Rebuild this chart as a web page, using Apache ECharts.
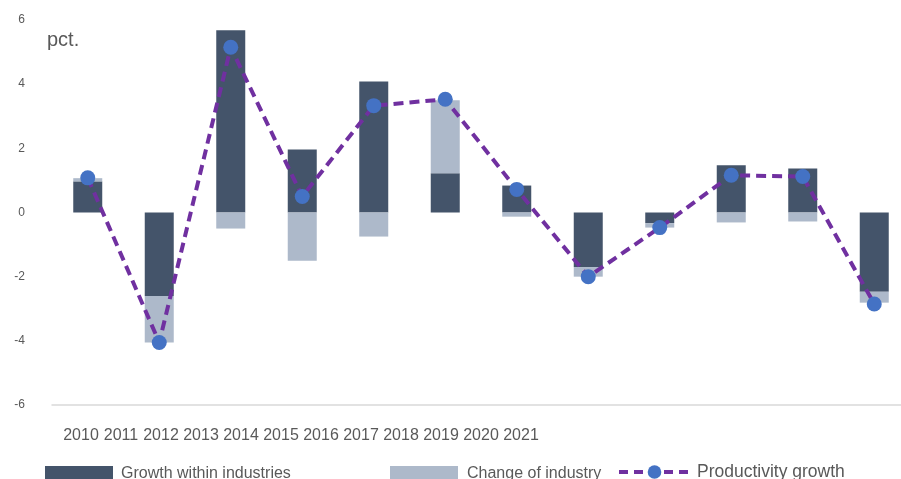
<!DOCTYPE html>
<html>
<head>
<meta charset="utf-8">
<script src="https://cdn.jsdelivr.net/npm/echarts@6/dist/echarts.min.js"></script>
<style>
html,body{margin:0;padding:0;background:#fff;}
#chart{width:901px;height:479px;}
</style>
</head>
<body>
<div id="chart"></div>
<script>
const years = ['2010','2011','2012','2013','2014','2015','2016','2017','2018','2019','2020','2021'];
const withinIndustries = [0.97, -2.6, 5.68, 1.96, 4.08, 1.22, 0.84, -1.70, -0.33, 1.47, 1.37, -2.47];
const changeOfIndustry = [0.10, -1.45, -0.50, -1.50, -0.75, 2.28, -0.13, -0.30, -0.14, -0.31, -0.28, -0.34];
const productivity = [1.08, -4.05, 5.15, 0.50, 3.33, 3.53, 0.72, -2.00, -0.47, 1.16, 1.12, -2.85];
const yTicks = {min: -6, max: 6, interval: 2};

const grey = '#595959';
const chart = echarts.init(document.getElementById('chart'), null, {renderer: 'canvas'});
chart.setOption({
  animation: false,
  backgroundColor: '#ffffff',
  textStyle: {fontFamily: 'Liberation Sans, Arial, sans-serif'},
  title: {
    text: 'pct.', left: 47, top: 30, padding: 0,
    textStyle: {fontSize: 20, fontWeight: 'normal', color: grey, fontFamily: 'Liberation Sans, Arial, sans-serif'}
  },
  grid: [
    {left: 52, top: 20, width: 858, height: 385, outerBoundsMode: 'none', containLabel: false},
    {left: 61, top: 400, width: 480, height: 20, outerBoundsMode: 'none', containLabel: false}
  ],
  xAxis: [
    {
      type: 'category', gridIndex: 0, data: years, boundaryGap: true,
      axisLine: {onZero: false, lineStyle: {color: '#d9d9d9', width: 1.5}},
      axisTick: {show: false}, axisLabel: {show: false}, splitLine: {show: false}
    },
    {
      type: 'category', gridIndex: 1, data: years, boundaryGap: true,
      axisLine: {show: false}, axisTick: {show: false},
      axisLabel: {show: true, interval: 0, color: grey, fontSize: 16, margin: 8,
        fontFamily: 'Liberation Sans, Arial, sans-serif'}
    }
  ],
  yAxis: [
    {
      type: 'value', gridIndex: 0, min: yTicks.min, max: yTicks.max, interval: yTicks.interval,
      axisLine: {show: false}, axisTick: {show: false}, splitLine: {show: false},
      axisLabel: {color: grey, fontSize: 12, margin: 27, fontFamily: 'Liberation Sans, Arial, sans-serif'}
    },
    {type: 'value', gridIndex: 1, show: false, min: 0, max: 1}
  ],
  legend: [
    {
      data: ['Growth within industries'], left: 45, top: 466, itemWidth: 68, itemHeight: 16, itemGap: 0,
      icon: 'rect', textStyle: {color: grey, fontSize: 16, padding: [0,0,0,3]}, padding: 0
    },
    {
      data: ['Change of industry'], left: 390, top: 466, itemWidth: 68, itemHeight: 16, itemGap: 0,
      icon: 'rect', textStyle: {color: grey, fontSize: 16, padding: [0,0,0,4]}, padding: 0
    },
    {
      data: ['Productivity growth'], left: 617, top: 463, itemWidth: 71, itemHeight: 17, itemGap: 0,
      lineStyle: {width: 4, type: [9, 6]},
      textStyle: {color: grey, fontSize: 17.5, padding: [0,0,0,2]}, padding: 0
    }
  ],
  series: [
    {
      name: 'Growth within industries', type: 'bar', stack: 'total', data: withinIndustries,
      xAxisIndex: 0, yAxisIndex: 0, barWidth: 29,
      itemStyle: {color: '#44546A'}
    },
    {
      name: 'Change of industry', type: 'bar', stack: 'total', data: changeOfIndustry,
      xAxisIndex: 0, yAxisIndex: 0, barWidth: 29,
      itemStyle: {color: '#ADB9CA'}
    },
    {
      name: 'Productivity growth', type: 'line', data: productivity,
      xAxisIndex: 0, yAxisIndex: 0, z: 5,
      symbol: 'circle', symbolSize: 15,
      lineStyle: {color: '#7030A0', width: 4, type: [10, 6]},
      itemStyle: {color: '#4472C4'}
    },
    {
      type: 'line', xAxisIndex: 1, yAxisIndex: 1, data: [], silent: true
    }
  ]
});
</script>
</body>
</html>
